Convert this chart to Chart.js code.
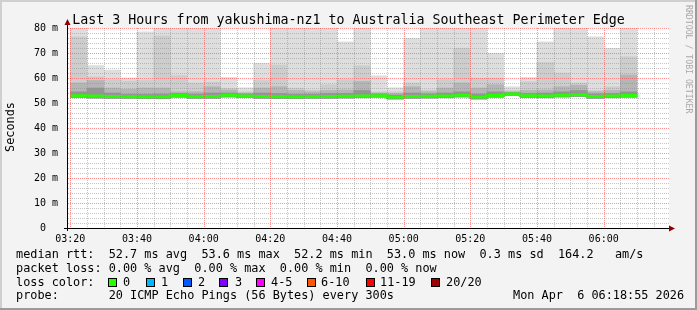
<!DOCTYPE html>
<html>
<head>
<meta charset="utf-8">
<script src="https://cdn.jsdelivr.net/npm/chart.js@4/dist/chart.umd.min.js"></script>
<style>
html,body{margin:0;padding:0;background:#f3f3f3;}
canvas{display:block;}
</style>
</head>
<body>
<canvas id="c" width="697" height="310"></canvas>
<script>
// ---- data ----
const slotTimes = ['03:20','03:25','03:30','03:35','03:40','03:45','03:50','03:55',
  '04:00','04:05','04:10','04:15','04:20','04:25','04:30','04:35','04:40','04:45','04:50','04:55',
  '05:00','05:05','05:10','05:15','05:20','05:25','05:30','05:35','05:40','05:45','05:50','05:55',
  '06:00','06:05'];
const maxRtt    = [81,65.0,63.2,60.0,78.5,81,81,81,81,60.2,56.1,65.9,81,81,81,81,74.5,81,60.9,56.1,
                   75.9,81,81,81,81,69.9,56.5,60.2,74.5,81,81,76.5,71.9,81];
const upperRtt  = [76.5,60.5,59.3,58.8,59.0,76.9,61.0,58.0,58.4,55.9,54.5,59.0,65.2,56.0,55.2,57.3,59.3,64.9,54.5,54.5,
                   58.0,55.2,59.3,71.9,59.9,59.9,55.0,58.5,66.2,62.0,58.0,55.0,56.5,68.5];
const midRtt    = [58.0,59.0,56.0,55.5,56.0,56.0,54.5,54.5,56.5,55.2,54.0,56.0,56.5,55.0,54.5,55.0,55.2,58.6,54.0,53.8,
                   56.5,54.5,56.0,58.0,56.0,57.3,54.5,55.0,55.2,56.5,57.1,54.5,55.0,61.2];
const nearRtt   = [54.5,56.0,54.0,53.5,53.5,53.6,53.8,53.5,54.0,54.0,53.6,54.0,53.8,53.5,53.5,53.8,53.8,55.0,53.6,53.2,
                   54.0,53.6,54.0,54.5,53.6,54.5,54.2,53.8,54.0,54.5,55.0,53.6,53.8,54.5];
const medianRtt = [52.9,52.8,52.6,52.5,52.4,52.4,53.0,52.5,52.6,53.1,52.8,52.6,52.5,52.4,52.5,52.6,52.7,52.8,52.9,52.2,
                   52.6,52.7,52.8,53.1,52.3,53.0,53.6,52.9,52.8,53.1,53.3,52.6,52.8,53.0];
const minRtt    = [52.2,52.0,51.9,51.9,51.8,51.7,52.3,51.9,51.9,52.4,52.2,51.9,51.8,51.8,51.9,51.9,52.0,52.1,52.3,51.6,
                   51.9,52.0,52.1,52.4,51.6,52.3,53.0,52.2,52.1,52.4,52.6,51.9,52.1,52.3];
const xTickLabels = ['03:20','03:40','04:00','04:20','04:40','05:00','05:20','05:40','06:00'];
const yTickLabels = ['0  ','10 m','20 m','30 m','40 m','50 m','60 m','70 m','80 m'];
const titleText = 'Last 3 Hours from yakushima-nz1 to Australia Southeast Perimeter Edge';
const yTitle = 'Seconds';
const watermark = 'RRDTOOL / TOBI OETIKER';
const statLines = [
  'median rtt:  52.7 ms avg  53.6 ms max  52.2 ms min  53.0 ms now  0.3 ms sd  164.2   am/s',
  'packet loss: 0.00 % avg  0.00 % max  0.00 % min  0.00 % now'
];
const lossLabels = ['0','1','2','3','4-5','6-10','11-19','20/20'];
const lossColors = ['#26ff00','#00b8ff','#0059ff','#7e00ff','#ff00ff','#ff5500','#ff0000','#a10000'];
const probeText = 'probe:       20 ICMP Echo Pings (56 Bytes) every 300s';
const stampText = 'Mon Apr  6 06:18:55 2026';

// ---- helpers ----
const STEP = 5;
const toMin = t => { const [h, m] = t.split(':').map(Number); return h * 60 + m - 200; };
const starts = slotTimes.map(toMin);
const floating = (lo, hi) => starts.map((s, i) => ({x: s + STEP / 2, y: [lo[i], hi[i]]}));
const medLine = starts.map((s, i) => ({x: s, y: medianRtt[i]}));
medLine.push({x: starts[starts.length - 1] + STEP, y: medianRtt[medianRtt.length - 1]});

const xGrid = []; for (let m = 0; m < 180; m += STEP) xGrid.push(m);
const yGrid = []; for (let v = 0; v <= 80; v += 2) yGrid.push(v);

const MONO = '"DejaVu Sans Mono", monospace';
const MAJOR = 'rgba(255,70,70,0.6)';
const MINOR = 'rgba(140,140,140,0.5)';

const barDs = (lo, hi, color, order) => ({
  type: 'bar', data: floating(lo, hi), backgroundColor: color, borderWidth: 0,
  grouped: false, barPercentage: 1, categoryPercentage: 1, order: order
});

const framePlugin = {
  id: 'frame',
  beforeDraw(chart) {
    const {ctx, chartArea: a} = chart;
    ctx.save();
    ctx.fillStyle = '#f3f3f3'; ctx.fillRect(0, 0, 697, 310);
    ctx.fillStyle = '#cfcfcf'; ctx.fillRect(0, 0, 697, 2); ctx.fillRect(0, 0, 2, 310);
    ctx.fillStyle = '#9b9b9b'; ctx.fillRect(695, 0, 2, 310); ctx.fillRect(0, 308, 697, 2);
    ctx.fillStyle = '#ffffff'; ctx.fillRect(a.left, a.top, a.right - a.left + 2, a.bottom - a.top);
    ctx.restore();
  },
  afterDatasetsDraw(chart) {
    // dotted rrdtool-style grid on top of the smoke
    const {ctx, chartArea: a, scales} = chart;
    const top = Math.round(a.top), bottom = Math.round(a.bottom), left = Math.round(a.left), right = Math.round(a.right) + 2;
    ctx.save();
    xGrid.forEach(v => {
      const px = Math.round(scales.x.getPixelForValue(v));
      ctx.fillStyle = v % 20 === 0 ? MAJOR : MINOR;
      for (let y = top; y < bottom; y += 2) ctx.fillRect(px, y, 1, 1);
    });
    yGrid.forEach(v => {
      if (v === 0) return;
      const py = Math.round(scales.y.getPixelForValue(v));
      ctx.fillStyle = v % 10 === 0 ? MAJOR : MINOR;
      for (let x = left + 1; x < right; x += 2) ctx.fillRect(x, py, 1, 1);
    });
    ctx.restore();
  },
  afterDraw(chart) {
    const {ctx, chartArea: a} = chart;
    ctx.save();
    // axes
    ctx.strokeStyle = '#000'; ctx.lineWidth = 1;
    ctx.beginPath();
    ctx.moveTo(a.left + 0.5, a.bottom + 3); ctx.lineTo(a.left + 0.5, a.top - 5);
    ctx.moveTo(a.left - 3, a.bottom + 0.5); ctx.lineTo(a.right + 3, a.bottom + 0.5);
    ctx.stroke();
    ctx.fillStyle = '#8b0000';
    ctx.beginPath();
    ctx.moveTo(a.left + 0.5, a.top - 9); ctx.lineTo(a.left - 2.5, a.top - 3); ctx.lineTo(a.left + 3.5, a.top - 3); ctx.closePath(); ctx.fill();
    ctx.beginPath();
    ctx.moveTo(a.right + 8, a.bottom + 0.5); ctx.lineTo(a.right + 2, a.bottom - 2.5); ctx.lineTo(a.right + 2, a.bottom + 3.5); ctx.closePath(); ctx.fill();
    // title
    ctx.fillStyle = '#000';
    ctx.font = '13.3px ' + MONO;
    ctx.textAlign = 'center'; ctx.textBaseline = 'alphabetic';
    ctx.fillText(titleText, 348.5, 24);
    // y title
    ctx.save();
    ctx.font = '11.85px ' + MONO;
    ctx.translate(11, 127); ctx.rotate(-Math.PI / 2);
    ctx.textAlign = 'center'; ctx.textBaseline = 'middle';
    ctx.fillText(yTitle, 0, 0);
    ctx.restore();
    // watermark
    ctx.save();
    ctx.fillStyle = '#a8a8a8';
    ctx.font = '8.2px ' + MONO;
    ctx.translate(688, 5); ctx.rotate(Math.PI / 2);
    ctx.textAlign = 'left'; ctx.textBaseline = 'middle';
    ctx.fillText(watermark, 0, 0);
    ctx.restore();
    // legend
    ctx.font = '11.85px ' + MONO;
    ctx.textAlign = 'left'; ctx.textBaseline = 'alphabetic';
    ctx.fillStyle = '#000';
    ctx.fillText(statLines[0], 16, 258);
    ctx.fillText(statLines[1], 16, 272);
    ctx.fillText('loss color:', 16, 286);
    const boxX = [108, 146, 183, 219, 256, 307, 366, 431];
    const labX = [123, 161, 198, 235, 271, 321, 380, 446];
    lossLabels.forEach((lab, i) => {
      ctx.fillStyle = lossColors[i];
      ctx.fillRect(boxX[i], 278, 8, 8);
      ctx.strokeStyle = '#000'; ctx.lineWidth = 1;
      ctx.strokeRect(boxX[i] + 0.5, 278.5, 8, 8);
      ctx.fillStyle = '#000';
      ctx.fillText(lab, labX[i], 286);
    });
    ctx.fillText(probeText, 16, 299);
    ctx.fillText(stampText, 513, 299);
    ctx.restore();
  }
};

new Chart(document.getElementById('c'), {
  data: {
    datasets: [
      barDs(minRtt, maxRtt, '#dedede', 6),
      barDs(minRtt, upperRtt, '#cdcdcd', 5),
      barDs(minRtt, midRtt, '#b5b5b5', 4),
      barDs(minRtt, nearRtt, '#959595', 3),
      {type: 'line', data: medLine, borderColor: '#26ff00', borderWidth: 3, stepped: true,
       pointRadius: 0, fill: false, order: 1, borderCapStyle: 'butt'}
    ]
  },
  options: {
    responsive: false, animation: false, devicePixelRatio: 1,
    layout: {padding: {left: 0, top: 28, right: 30, bottom: 0}},
    plugins: {legend: {display: false}, tooltip: {enabled: false}, title: {display: false}},
    scales: {
      x: {
        type: 'linear', min: -1, max: 179, offset: false,
        afterBuildTicks: s => { s.ticks = xGrid.map(v => ({value: v})); },
        afterFit: s => { s.height = 82; },
        ticks: {autoSkip: false, maxRotation: 0, minRotation: 0, padding: 5, color: '#000',
          font: {family: MONO, size: 10},
          callback: v => (v % 20 === 0 ? xTickLabels[v / 20] : '')},
        grid: {display: false, offset: false, drawTicks: false},
        border: {display: false}
      },
      y: {
        type: 'linear', min: 0, max: 80,
        afterBuildTicks: s => { s.ticks = yGrid.map(v => ({value: v})); },
        afterFit: s => { s.width = 67; },
        ticks: {autoSkip: false, padding: 9, color: '#000',
          font: {family: MONO, size: 10},
          callback: v => (v % 10 === 0 ? yTickLabels[v / 10] : '')},
        grid: {display: false, drawTicks: false},
        border: {display: false}
      }
    }
  },
  plugins: [framePlugin]
});
</script>
</body>
</html>
